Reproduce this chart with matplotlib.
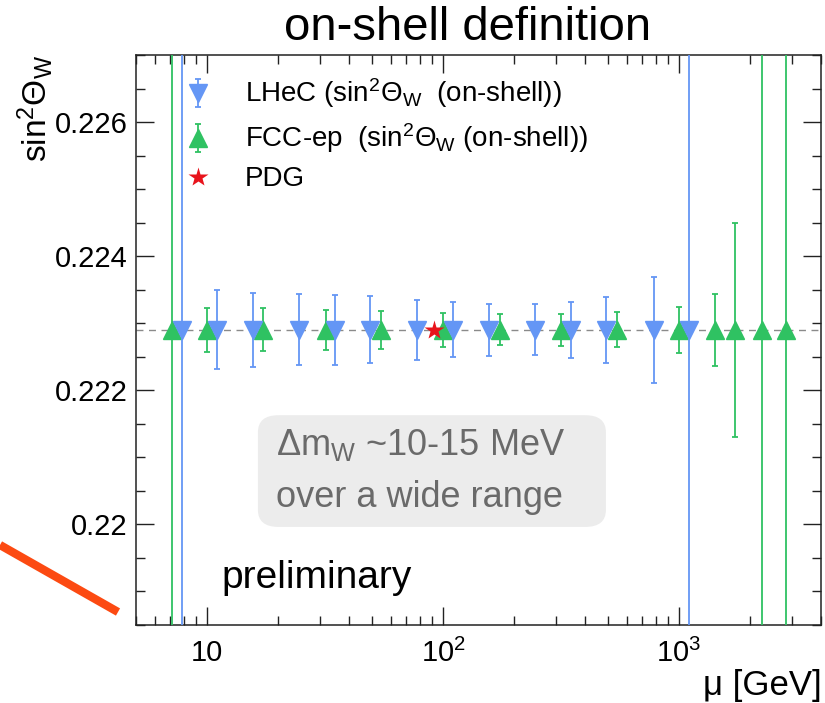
"""
sin^2 theta_W (on-shell) versus scale mu: projected LHeC and FCC-ep
uncertainties around the PDG value.

Run with:   python plot.py   ->  out.png
"""

import matplotlib
matplotlib.use("Agg")
import matplotlib.pyplot as plt
from matplotlib.lines import Line2D
from matplotlib.patches import FancyBboxPatch

plt.rcParams["font.family"] = ["Liberation Sans", "DejaVu Sans"]
plt.rcParams["mathtext.fontset"] = "custom"
plt.rcParams["mathtext.rm"] = "Liberation Sans"
plt.rcParams["mathtext.it"] = "Liberation Sans:italic"
plt.rcParams["mathtext.bf"] = "Liberation Sans:bold"

# --- data -------------------------------------------------------------------
SIN2_ONSHELL = 0.2229

lhec_mu = [7.8, 11.0, 15.7, 24.5, 34.7, 49.2, 77.6, 110, 156, 246, 348, 492, 781, 1100]
lhec_value = [0.2229, 0.2229, 0.2229, 0.2229, 0.2229, 0.2229, 0.2229,
              0.2229, 0.2229, 0.2229, 0.2229, 0.2229, 0.2229, 0.2229]
lhec_err = [0.01, 0.00059, 0.00055, 0.00053, 0.00052, 0.00050, 0.00045,
            0.00041, 0.00039, 0.00038, 0.00042, 0.00049, 0.00079, 0.01]

fcc_mu = [7.1, 10.0, 17.3, 31.8, 54.6, 100, 174, 317, 548, 1000, 1425, 1733, 2255, 2850]
fcc_value = [0.2229, 0.2229, 0.2229, 0.2229, 0.2229, 0.2229, 0.2229,
             0.2229, 0.2229, 0.2229, 0.2229, 0.2229, 0.2229, 0.2229]
fcc_err = [0.01, 0.00033, 0.00032, 0.00030, 0.00028, 0.00025, 0.00023,
           0.00024, 0.00026, 0.00034, 0.00054, 0.0016, 0.01, 0.01]

pdg_mu = [91.19]
pdg_value = [0.2229]

x_ticks = [10, 100, 1000]
x_tick_labels = ["10", "$10^{2}$", "$10^{3}$"]
y_ticks = [0.220, 0.222, 0.224, 0.226]
y_tick_labels = ["0.22", "0.222", "0.224", "0.226"]

# --- style ------------------------------------------------------------------
BLUE = "#6496f5"
GREEN = "#2fc262"
RED = "#e8141c"
ORANGE = "#fc4a12"

fig = plt.figure(figsize=(8.25, 7.03), dpi=100)
ax = fig.add_axes([0.1648, 0.1110, 0.8304, 0.8108])

ax.axhline(SIN2_ONSHELL, color="#8a8a8a", lw=1.0, ls=(0, (5, 4)), zorder=1)

fcc = ax.errorbar(fcc_mu, fcc_value, yerr=fcc_err, fmt="^", color=GREEN,
                  ms=13, elinewidth=1.3, capsize=2, capthick=1.3, zorder=3)
lhec = ax.errorbar(lhec_mu, lhec_value, yerr=lhec_err, fmt="v", color=BLUE,
                   ms=13, elinewidth=1.3, capsize=2, capthick=1.3, zorder=4)
pdg, = ax.plot(pdg_mu, pdg_value, "*", color=RED, ms=15, mec="none", zorder=5)

ax.set_xscale("log")
ax.set_xlim(5, 4000)
ax.set_ylim(0.2185, 0.2270)
ax.set_xticks(x_ticks, x_tick_labels)
ax.set_yticks(y_ticks, y_tick_labels)
ax.set_yticks([0.2185 + 0.0005 * k for k in range(18)], minor=True)
ax.tick_params(which="both", direction="in", top=True, right=True,
               width=1.0, color="#222222")
ax.tick_params(which="major", length=13, labelsize=21)
ax.tick_params(which="minor", length=6.5)
ax.tick_params(axis="x", which="major", pad=10)
ax.tick_params(axis="y", which="major", pad=6)
for spine in ax.spines.values():
    spine.set_linewidth(1.1)
    spine.set_color("#222222")

ax.legend([lhec, fcc, pdg],
          [r"LHeC (sin$^{2}\Theta_{\mathrm{W}}$  (on-shell))",
           r"FCC-ep  (sin$^{2}\Theta_{\mathrm{W}}$ (on-shell))",
           "PDG"],
          loc="upper left", bbox_to_anchor=(0.062, 0.962), frameon=False,
          fontsize=20, handlelength=1.4, handletextpad=1.0,
          labelspacing=0.40, borderpad=0, borderaxespad=0)

# note box in the middle of the plot
ax.add_patch(FancyBboxPatch((0.178, 0.172), 0.508, 0.196,
                            boxstyle="round,pad=0,rounding_size=0.03",
                            transform=ax.transAxes, facecolor="#ececec",
                            edgecolor="none", zorder=2))
ax.text(0.2044, 0.316, r"$\Delta$m$_{\mathrm{W}}$ ~10-15 MeV", transform=ax.transAxes,
        ha="left", va="center", fontsize=26, color="#6a6a6a", zorder=6)
ax.text(0.2044, 0.223, "over a wide range", transform=ax.transAxes,
        ha="left", va="center", fontsize=26, color="#6a6a6a", zorder=6)
ax.text(0.1255, 0.0825, "preliminary", transform=ax.transAxes,
        ha="left", va="center", fontsize=28, color="black", zorder=6)

# title, axis titles
fig.text(0.567, 0.960, "on-shell definition", ha="center", va="center", fontsize=34)
fig.text(0.996, 0.025, "\u03bc [GeV]", ha="right", va="center", fontsize=25)
fig.text(0.042, 0.922, r"sin$^{2}\Theta_{\mathrm{W}}$", ha="center", va="top",
         rotation=90, fontsize=24)

# orange pointer in the lower left corner
fig.add_artist(Line2D([0.0, 118 / 825], [1 - 545 / 703, 1 - 612 / 703],
                      color=ORANGE, lw=6, solid_capstyle="butt"))

fig.savefig("out.png", dpi=100, facecolor="white")
